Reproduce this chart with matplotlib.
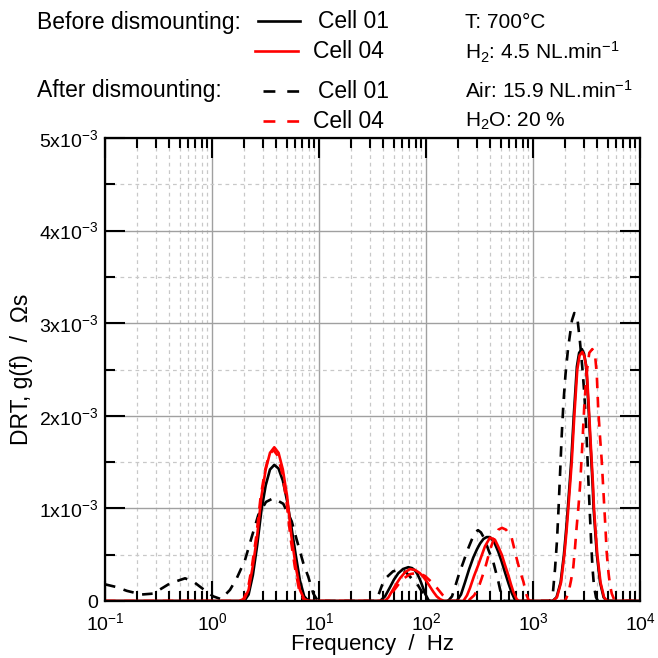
import numpy as np
import matplotlib
matplotlib.use("Agg")
import matplotlib.pyplot as plt
from matplotlib.ticker import LogLocator, FixedLocator, NullFormatter, FixedFormatter

plt.rcParams['font.family'] = ['Liberation Sans', 'DejaVu Sans']
plt.rcParams['mathtext.default'] = 'regular'

# log10(frequency / Hz) and DRT values (units of 1e-3 Ohm s)
black_solid_logf = [-1.0,
    0.302, 0.342, 0.382, 0.422, 0.462, 0.502, 0.542, 0.582, 0.622, 0.662, 0.702, 0.742, 0.782, 0.822, 0.862, 0.902,
    1.570, 1.617, 1.664, 1.700, 1.741, 1.785, 1.835, 1.870, 1.897, 1.920, 1.944, 1.970, 1.991, 2.028,
    2.287, 2.327, 2.364, 2.402, 2.442, 2.477, 2.505, 2.537, 2.567, 2.598, 2.636, 2.676, 2.706, 2.738, 2.771, 2.801, 2.832, 2.860,
    3.183, 3.220, 3.258, 3.289, 3.309, 3.326, 3.342, 3.358, 3.370, 3.382, 3.396, 3.410, 3.431, 3.457, 3.477, 3.498, 3.510,
    3.522, 3.533, 3.545, 3.557, 3.566, 3.581, 3.597, 3.627, 3.660, 3.688,
    4.0]
black_solid_g = [0.0,
    0.0, 0.07, 0.28, 0.60, 0.98, 1.25, 1.42, 1.47, 1.43, 1.30, 1.08, 0.80, 0.50, 0.22, 0.05, 0.0,
    0.0, 0.05, 0.15, 0.23, 0.30, 0.345, 0.365, 0.355, 0.33, 0.29, 0.23, 0.15, 0.08, 0.0,
    0.0, 0.07, 0.20, 0.34, 0.47, 0.56, 0.62, 0.67, 0.69, 0.69, 0.64, 0.53, 0.43, 0.31, 0.19, 0.09, 0.01, 0.0,
    0.0, 0.04, 0.20, 0.50, 0.76, 1.01, 1.26, 1.52, 1.77, 2.02, 2.27, 2.53, 2.68, 2.72, 2.67, 2.53, 2.27,
    2.02, 1.77, 1.52, 1.26, 1.01, 0.76, 0.50, 0.20, 0.04, 0.0,
    0.0]

red_solid_logf = [-1.0,
    0.262, 0.302, 0.342, 0.382, 0.422, 0.462, 0.502, 0.542, 0.582, 0.622, 0.662, 0.702, 0.742, 0.782, 0.822, 0.862, 0.902,
    1.617, 1.650, 1.679, 1.720, 1.757, 1.804, 1.850, 1.897, 1.944, 1.975, 2.007, 2.040, 2.068, 2.100, 2.131, 2.168,
    2.349, 2.383, 2.411, 2.449, 2.489, 2.523, 2.551, 2.598, 2.645, 2.678, 2.708, 2.738, 2.769, 2.794, 2.816, 2.847, 2.869,
    3.187, 3.224, 3.262, 3.293, 3.313, 3.330, 3.346, 3.362, 3.374, 3.386, 3.400, 3.414, 3.435, 3.461, 3.481, 3.502, 3.514,
    3.526, 3.537, 3.549, 3.561, 3.570, 3.585, 3.601, 3.631, 3.664, 3.692,
    4.0]
red_solid_g = [0.0,
    0.0, 0.02, 0.12, 0.38, 0.70, 1.13, 1.42, 1.60, 1.66, 1.60, 1.42, 1.13, 0.70, 0.38, 0.12, 0.02, 0.0,
    0.0, 0.04, 0.10, 0.18, 0.245, 0.31, 0.345, 0.335, 0.30, 0.26, 0.21, 0.15, 0.10, 0.05, 0.02, 0.0,
    0.0, 0.06, 0.14, 0.27, 0.39, 0.50, 0.59, 0.685, 0.66, 0.58, 0.50, 0.39, 0.28, 0.18, 0.10, 0.02, 0.0,
    0.0, 0.04, 0.20, 0.50, 0.75, 1.00, 1.25, 1.50, 1.75, 2.00, 2.25, 2.50, 2.65, 2.69, 2.64, 2.50, 2.25,
    2.00, 1.75, 1.50, 1.25, 1.00, 0.75, 0.50, 0.20, 0.04, 0.0,
    0.0]

black_dash_logf = [-1.0, -0.891, -0.797, -0.657, -0.549, -0.393, -0.252, -0.175, -0.050, 0.012, 0.084, 0.168, 0.231,
    0.308, 0.371, 0.433, 0.505, 0.573, 0.666, 0.745, 0.792, 0.853, 0.900, 0.947, 0.990,
    1.523, 1.551, 1.589, 1.636, 1.692, 1.757, 1.813, 1.869, 1.925, 1.972, 2.019,
    2.206, 2.243, 2.271, 2.308, 2.349, 2.388, 2.427, 2.458, 2.486, 2.514, 2.547, 2.584, 2.629, 2.676, 2.701, 2.724,
    3.159, 3.187, 3.206, 3.224, 3.238, 3.252, 3.268, 3.285, 3.304, 3.327, 3.346, 3.364, 3.386, 3.402, 3.418, 3.439,
    3.461, 3.477, 3.489, 3.502, 3.517, 3.533, 3.545, 3.556, 3.570, 3.589, 3.607,
    4.0]
black_dash_g = [0.18, 0.15, 0.11, 0.07, 0.08, 0.19, 0.245, 0.21, 0.10, 0.05, 0.02, 0.12, 0.245,
    0.44, 0.69, 0.93, 1.07, 1.11, 1.05, 0.86, 0.66, 0.41, 0.26, 0.08, 0.0,
    0.0, 0.05, 0.17, 0.26, 0.32, 0.34, 0.31, 0.24, 0.17, 0.08, 0.0,
    0.0, 0.05, 0.15, 0.29, 0.42, 0.55, 0.66, 0.74, 0.765, 0.74, 0.67, 0.55, 0.42, 0.21, 0.08, 0.0,
    0.0, 0.10, 0.35, 0.65, 0.98, 1.35, 1.78, 2.15, 2.45, 2.72, 2.88, 3.03, 3.11, 3.09, 3.02, 2.80,
    2.52, 2.28, 2.05, 1.74, 1.32, 0.90, 0.60, 0.36, 0.16, 0.04, 0.0,
    0.0]

red_dash_logf = [-1.0,
    0.254, 0.294, 0.334, 0.374, 0.414, 0.454, 0.494, 0.534, 0.574, 0.614, 0.654, 0.694, 0.734, 0.774, 0.814, 0.854, 0.894,
    1.626, 1.645, 1.710, 1.776, 1.850, 1.925, 1.991, 2.047, 2.103, 2.159, 2.215,
    2.393, 2.411, 2.449, 2.489, 2.519, 2.551, 2.598, 2.636, 2.676, 2.710, 2.748, 2.801, 2.847, 2.879, 2.910, 2.941, 2.963,
    3.299, 3.330, 3.355, 3.377, 3.393, 3.408, 3.425, 3.439, 3.458, 3.479, 3.500, 3.526, 3.554, 3.579, 3.596, 3.610,
    3.626, 3.642, 3.654, 3.666, 3.678, 3.689, 3.706, 3.720, 3.736, 3.757, 3.776,
    4.0]
red_dash_g = [0.0,
    0.0, 0.02, 0.12, 0.38, 0.70, 1.12, 1.40, 1.58, 1.63, 1.57, 1.39, 1.10, 0.68, 0.37, 0.12, 0.02, 0.0,
    0.0, 0.04, 0.13, 0.23, 0.29, 0.305, 0.27, 0.21, 0.14, 0.06, 0.0,
    0.0, 0.02, 0.06, 0.14, 0.24, 0.35, 0.55, 0.68, 0.77, 0.79, 0.77, 0.68, 0.46, 0.32, 0.21, 0.06, 0.0,
    0.0, 0.08, 0.22, 0.37, 0.58, 0.80, 1.02, 1.23, 1.62, 2.10, 2.45, 2.68, 2.72, 2.67, 2.45, 2.06,
    1.78, 1.52, 1.27, 1.02, 0.77, 0.52, 0.30, 0.17, 0.08, 0.02, 0.0,
    0.0]

y_ticks = [0, 1e-3, 2e-3, 3e-3, 4e-3, 5e-3]
y_tick_labels = ['0', r'$1x10^{-3}$', r'$2x10^{-3}$', r'$3x10^{-3}$', r'$4x10^{-3}$', r'$5x10^{-3}$']


def to_xy(logf, g):
    return 10 ** np.array(logf), np.array(g) * 1e-3


fig = plt.figure(figsize=(6.58, 6.58), dpi=100)
ax = fig.add_axes([105 / 658, 57 / 658, 535 / 658, 463 / 658])

lw = 1.9
dash = (4.0, 3.3)
x, y = to_xy(black_dash_logf, black_dash_g)
ax.plot(x, y, color='black', lw=lw, dashes=dash)
x, y = to_xy(black_solid_logf, black_solid_g)
ax.plot(x, y, color='black', lw=lw)
x, y = to_xy(red_dash_logf, red_dash_g)
ax.plot(x, y, color='#ff0000', lw=lw, dashes=dash)
x, y = to_xy(red_solid_logf, red_solid_g)
ax.plot(x, y, color='#ff0000', lw=lw)

ax.set_xscale('log')
ax.set_xlim(0.1, 1e4)
ax.set_ylim(0, 5e-3)
ax.xaxis.set_major_locator(LogLocator(base=10, numticks=20))
ax.xaxis.set_minor_locator(LogLocator(base=10, subs=np.arange(2, 10), numticks=100))
ax.xaxis.set_minor_formatter(NullFormatter())
ax.yaxis.set_major_locator(FixedLocator(y_ticks))
ax.yaxis.set_major_formatter(FixedFormatter(y_tick_labels))
ax.yaxis.set_minor_locator(FixedLocator([0.5e-3, 1.5e-3, 2.5e-3, 3.5e-3, 4.5e-3]))

ax.grid(which='major', color='#a0a0a0', lw=1.0, ls='-')
ax.grid(which='minor', color='#c8c8c8', lw=0.9, ls=(0, (3, 3)))
ax.set_axisbelow(True)

ax.tick_params(which='both', direction='in', top=True, right=True, width=1.5, labelsize=14, colors='black')
ax.tick_params(which='major', length=14.5)
ax.tick_params(axis='x', which='major', pad=8)
ax.tick_params(axis='y', which='major', pad=5)
ax.tick_params(which='minor', length=7)
for s in ax.spines.values():
    s.set_linewidth(1.6)

ax.set_xlabel('Frequency  /  Hz', fontsize=16, labelpad=0)
ax.set_ylabel('DRT, g(f)  /  \u03a9s', fontsize=16.5, labelpad=4)

# legend / conditions block above the plot, in pixel coordinates
lg = fig.add_axes([0, 520 / 658, 1, 138 / 658])
lg.set_xlim(0, 658)
lg.set_ylim(138, 0)
lg.axis('off')
fs = 16.5
fs2 = 15
lg.text(37, 22, 'Before dismounting:', fontsize=fs, va='center')
lg.plot([258, 300], [21, 21], color='black', lw=lw)
lg.text(318, 22, 'Cell 01', fontsize=fs, va='center')
lg.plot([255, 298], [51, 51], color='#ff0000', lw=lw)
lg.text(313, 52, 'Cell 04', fontsize=fs, va='center')
lg.text(37, 91, 'After dismounting:', fontsize=fs, va='center')
lg.plot([263, 299], [91, 91], color='black', lw=lw, dashes=(4.5, 4.5))
lg.text(318, 91, 'Cell 01', fontsize=fs, va='center')
lg.plot([263, 299], [121, 121], color='#ff0000', lw=lw, dashes=(4.5, 4.5))
lg.text(313, 121, 'Cell 04', fontsize=fs, va='center')
lg.text(465, 22, 'T: 700\u00b0C', fontsize=fs2, va='center')
lg.text(465, 52, r'H$_2$: 4.5 NL.min$^{-1}$', fontsize=fs2, va='center')
lg.text(465, 91, r'Air: 15.9 NL.min$^{-1}$', fontsize=fs2, va='center')
lg.text(465, 121, r'H$_2$O: 20 %', fontsize=fs2, va='center')

fig.savefig('out.png', dpi=100)
